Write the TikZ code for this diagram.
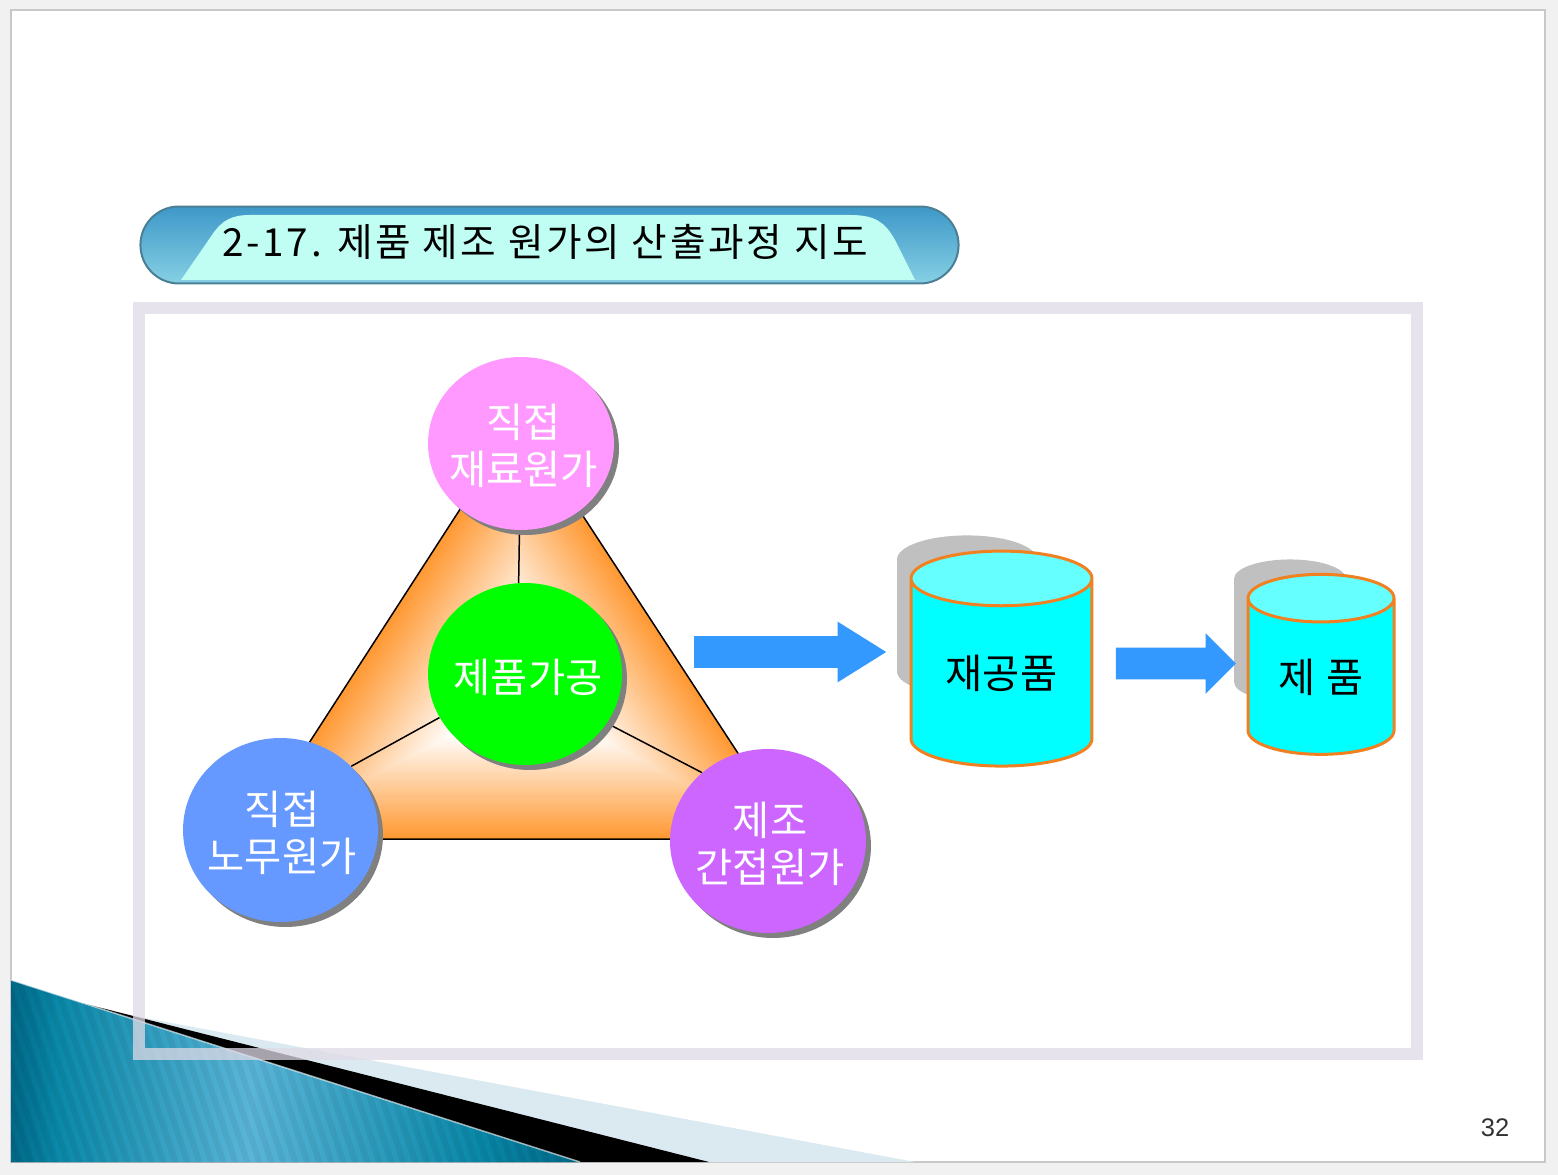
\documentclass[tikz,border=0pt]{standalone}
\usepackage{fontspec}
\setmainfont{Liberation Sans}
\newfontfamily\krfont{Noto Sans CJK KR}
\usetikzlibrary{shapes.geometric,shapes.arrows,shapes.misc,shadows,backgrounds}
\definecolor{pagegray}{RGB}{241, 241, 241}
\definecolor{slideedge}{RGB}{200, 200, 200}
\definecolor{framecolor}{RGB}{223, 218, 230}
\definecolor{triorange}{RGB}{255, 153, 51}
\definecolor{pinkcolor}{RGB}{255, 153, 255}
\definecolor{greencolor}{RGB}{0, 255, 0}
\definecolor{bluecolor}{RGB}{102, 153, 255}
\definecolor{purplecolor}{RGB}{204, 102, 255}
\definecolor{drumcyan}{RGB}{0, 255, 255}
\definecolor{drumtop}{RGB}{102, 255, 255}
\definecolor{drumedge}{RGB}{240, 128, 32}
\definecolor{drumgray}{RGB}{192, 192, 192}
\definecolor{arrowblue}{RGB}{51, 153, 255}
\definecolor{pilltop}{RGB}{62, 152, 200}
\definecolor{pillbottom}{RGB}{134, 208, 228}
\definecolor{pilledge}{RGB}{74, 127, 149}
\definecolor{pilllight}{RGB}{192, 253, 243}
\definecolor{cornerlight}{RGB}{219, 234, 241}
\definecolor{cornerdark}{RGB}{0, 104, 136}
\definecolor{cornermid}{RGB}{10, 136, 168}
\definecolor{cornerpale}{RGB}{90, 181, 216}
\pgfdeclarehorizontalshading{cornerblue}{100bp}{color(0bp)=(cornerdark);
  color(25bp)=(cornerdark);
  color(29bp)=(cornermid);
  color(46bp)=(cornerpale);
  color(66bp)=(cornermid);
  color(75bp)=(cornerdark);
  color(100bp)=(cornerdark)}
\tikzset{every node/.append style={align=center}}
\tikzset{
  costdisc/.style={ellipse, inner sep=0pt,
    drop shadow={shadow xshift=0.1cm, shadow yshift=-0.1cm, fill=gray, opacity=1}},
  costtext/.style={font=\krfont\fontsize{23}{26.5}\selectfont, text=white},
  drumshade/.style={cylinder, shape border rotate=90, inner sep=0.3cm, fill=drumgray},
  drumfront/.style={cylinder, shape border rotate=90, cylinder uses custom fill, inner sep=0pt,
    font=\krfont\fontsize{23}{27}\selectfont, text=black,
    draw=drumedge, line width=0.06cm, cylinder body fill=drumcyan, cylinder end fill=drumtop},
  flowarrow/.style={single arrow, fill=arrowblue, inner sep=0pt, text height=0.62cm, text depth=0pt,
    text width=0pt, single arrow head indent=0pt}
}
\begin{document}
\begin{tikzpicture}[x=0.02cm, y=-0.02cm]
    \useasboundingbox (0,0) rectangle (1558,1175);

    % Cost discs
    \node[costdisc, fill=pinkcolor, minimum width=3.72cm, minimum height=3.46cm] (material) at (521,443.5) {};
    \node[costdisc, fill=greencolor, minimum width=3.88cm, minimum height=3.64cm] (process) at (525,674) {};
    \node[costdisc, fill=bluecolor, minimum width=3.9cm, minimum height=3.68cm] (labor) at (280.5,830) {};
    \node[costdisc, fill=purplecolor, minimum width=3.92cm, minimum height=3.68cm] (overhead) at (768,841) {};
    \node[costtext] (materialtext) at (523.5,446) {직접\\재료원가};
    \node[costtext] (processtext) at (528,677) {제품가공};
    \node[costtext] (labortext) at (282,833) {직접\\노무원가};
    \node[costtext] (overheadtext) at (770,844) {제조\\간접원가};

    \begin{scope}[on background layer]
        % Slide
        \fill[pagegray] (0,0) rectangle (1558,1175);
        \draw[slideedge, line width=0.03cm, fill=white] (11,10) rectangle (1545,1162);

        % Corner wedges
        \fill[cornerlight] (11,993) -- (915,1162) -- (11,1162) -- cycle;
        \fill[black] (11,985) -- (709,1162) -- (11,1162) -- cycle;
        \shade[shading=cornerblue] (11,980) -- (580,1162) -- (11,1162) -- cycle;
        \begin{scope}
            \clip (11,980) -- (580,1162) -- (11,1162) -- cycle;
            \foreach \x in {-60,-48,...,600} {
                \draw[black, opacity=0.05, line width=0.12cm] (\x,960) -- (\x+70,1170);
            }
        \end{scope}
        \draw[white, opacity=0.6, line width=0.03cm] (11,980) -- (580,1162);

        % Frame
        \draw[framecolor, opacity=0.75, line width=0.24cm] (139,308) rectangle (1417,1054);

        % Gradient triangle
        \foreach \s [evaluate=\s as \mix using {max(0,(\s-26)*100/74)}] in {100,98,...,0} {
            \begin{scope}[shift={(522,699)}, scale=\s/100]
                \fill[triorange!\mix!white] (-3,-281) -- (-275,140) -- (272,140) -- cycle;
            \end{scope}
        }
        \draw[black, line width=0.03cm] (519,418) -- (247,839) -- (794,839) -- cycle;

        % Spokes
        \draw[black, line width=0.03cm] (material.269) -- (process.94);
        \draw[black, line width=0.03cm] (labor.42) -- (process.207);
        \draw[black, line width=0.03cm] (overhead.134) -- (process.329);
    \end{scope}

    % Title bar
    \node[rounded rectangle, draw=pilledge, line width=0.04cm, top color=pilltop, bottom color=pillbottom, minimum width=16.6cm, minimum height=1.54cm] (titlebar) at (549.5,245) {};
    \fill[pilllight] (181,280) -- (212,235) .. controls (222,220) and (232,215) .. (250,215) -- (850,215) .. controls (875,215) and (885,222) .. (895,240) -- (915,280) -- cycle;
    \node[font=\krfont\fontsize{22}{26}\selectfont, text=black] (titletext) at (545,242) {\addfontfeature{LetterSpace=7.3}2-17. 제품 제조 원가의 산출과정 지도};

    % Drums
    \node[drumshade, aspect=1.6, minimum height=3.2cm, minimum width=2.8cm] (wipback) at (967,635) {};
    \node[drumfront, aspect=0.49, minimum height=4.3cm, minimum width=3.62cm] (wip) at (1001.5,673) {재공품};
    \node[drumshade, aspect=1.3, minimum height=2.84cm, minimum width=2.24cm] (goodsback) at (1290,647) {};
    \node[drumfront, aspect=0.557, minimum height=3.6cm, minimum width=2.92cm] (goods) at (1321,677) {제\hspace{0.22cm}품};

    % Flow arrows
    \node[flowarrow, single arrow head extend=0.29cm, single arrow tip angle=64, minimum height=3.84cm] (flowone) at (777.5,652) {};
    \node[flowarrow, single arrow head extend=0.29cm, single arrow tip angle=90, minimum height=2.4cm] (flowtwo) at (1168,663.5) {};

    % Page number
    \node[font=\fontsize{14.5}{17}\selectfont, text=black!80] (pagenum) at (1495,1128) {32};
\end{tikzpicture}
\end{document}
